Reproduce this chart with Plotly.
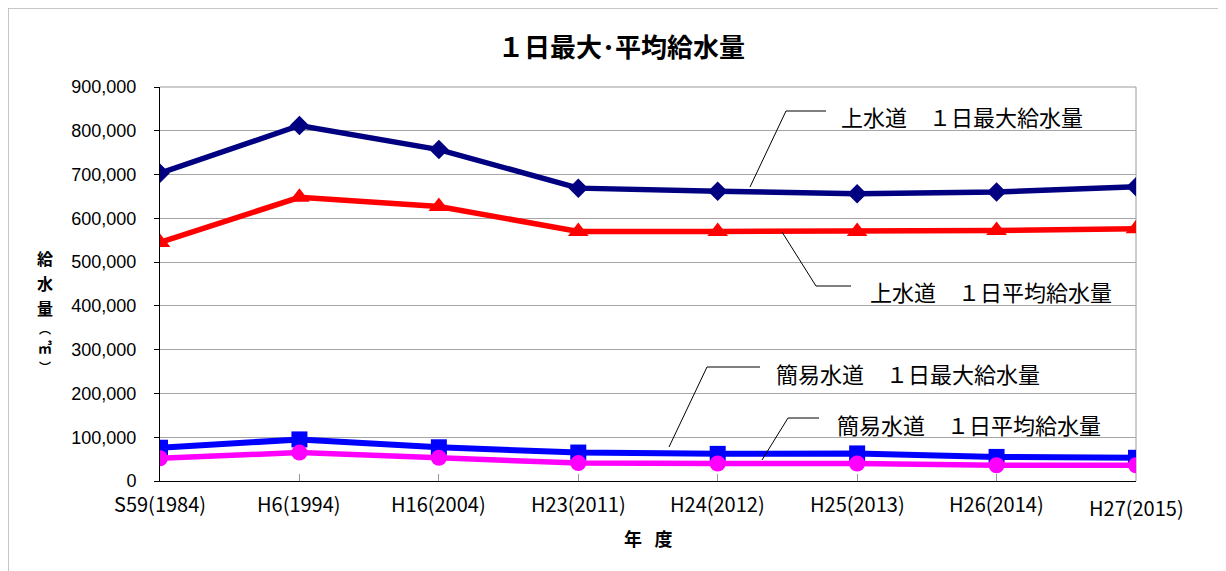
import plotly.graph_objects as go

# ---- data ----
categories = ["S59(1984)", "H6(1994)", "H16(2004)", "H23(2011)",
              "H24(2012)", "H25(2013)", "H26(2014)", "H27(2015)"]
josui_max = [703000, 812000, 757000, 669000, 662000, 656000, 660000, 672000]
josui_avg = [545000, 648000, 627000, 570000, 570000, 570000, 572000, 576000]
kanni_max = [76000, 95000, 77000, 65000, 62000, 63000, 55000, 53000]
kanni_avg = [52000, 65000, 53000, 41000, 40000, 40000, 36000, 36000]

series_names = ["上水道　１日最大給水量", "上水道　１日平均給水量",
                "簡易水道　１日最大給水量", "簡易水道　１日平均給水量"]
title_text = "１日最大･平均給水量"
y_title = "給水量︵㎥︶"
x_title = "年\u2002\u2009度"

# screenshot geometry (page body has an 8px margin)
OFF = 8
PLOT_X0, PLOT_X1 = 160, 1136
PLOT_Y0, PLOT_Y1 = 87, 481
W, H = 1226 - OFF, 571 - OFF
L, T = PLOT_X0 - OFF, PLOT_Y0 - OFF
PW, PH = PLOT_X1 - PLOT_X0, PLOT_Y1 - PLOT_Y0
R, B = W - L - PW, H - T - PH

def px(x):
    return (x - PLOT_X0) / PW

def py(y):
    return (PLOT_Y1 - y) / PH

JP = "Noto Sans CJK JP"

fig = go.Figure()
fig.add_trace(go.Scatter(x=categories, y=josui_max, mode="lines+markers", name=series_names[0],
                         line=dict(color="#000080", width=5.5),
                         marker=dict(symbol="diamond", size=15, color="#000080")))
fig.add_trace(go.Scatter(x=categories, y=josui_avg, mode="lines+markers", name=series_names[1],
                         line=dict(color="#FF0000", width=5.5),
                         marker=dict(symbol="triangle-up", size=18, color="#FF0000")))
fig.add_trace(go.Scatter(x=categories, y=kanni_max, mode="lines+markers", name=series_names[2],
                         line=dict(color="#0000FF", width=6),
                         marker=dict(symbol="square", size=16, color="#0000FF")))
fig.add_trace(go.Scatter(x=categories, y=kanni_avg, mode="lines+markers", name=series_names[3],
                         line=dict(color="#FF00FF", width=5.5),
                         marker=dict(symbol="circle", size=16, color="#FF00FF")))

annotations = []
# title
annotations.append(dict(text=f"<b>{title_text}</b>", xref="paper", yref="paper",
                        x=px(621), y=py(45), xanchor="center", yanchor="middle",
                        showarrow=False, font=dict(family=JP, size=26, color="black")))
# y-axis title stacked vertically, one character per row
ychar_y = [258, 283, 308, 328, 347, 366]
ychar_size = [16, 16, 16, 12, 14, 12]
for ch, yy, sz in zip(y_title, ychar_y, ychar_size):
    annotations.append(dict(text=f"<b>{ch}</b>", xref="paper", yref="paper",
                            x=px(45), y=py(yy), xanchor="center", yanchor="middle",
                            showarrow=False, borderpad=0,
                            font=dict(family=JP, size=sz, color="black")))
# x-axis title
annotations.append(dict(text=f"<b>{x_title}</b>", xref="paper", yref="paper",
                        x=px(648), y=py(538), xanchor="center", yanchor="middle",
                        showarrow=False, font=dict(family=JP, size=18, color="black")))
# x tick labels
for i, c in enumerate(categories):
    yy = 507 if i == len(categories) - 1 else 503
    annotations.append(dict(text=c, xref="x", yref="paper", x=c, y=py(yy),
                            xanchor="center", yanchor="middle", showarrow=False,
                            font=dict(family=JP, size=20, color="black")))

# series labels with leader lines
label_specs = [
    (series_names[0], 839, 116, [(750, 187), (786, 111), (826, 111)]),
    (series_names[1], 868, 291, [(782, 232), (816, 286), (851, 286)]),
    (series_names[2], 774, 373, [(669, 447), (707, 367), (760, 367)]),
    (series_names[3], 835, 424, [(762, 460), (788, 418), (819, 418)]),
]
shapes = []
for text, tx, ty, pts in label_specs:
    annotations.append(dict(text=text, xref="paper", yref="paper", x=px(tx), y=py(ty),
                            xanchor="left", yanchor="middle", showarrow=False,
                            font=dict(family=JP, size=22, color="black")))
    for (x0, y0), (x1, y1) in zip(pts[:-1], pts[1:]):
        shapes.append(dict(type="line", xref="paper", yref="paper",
                           x0=px(x0), y0=py(y0), x1=px(x1), y1=py(y1),
                           line=dict(color="black", width=1)))

# plot area top/right border (gray)
shapes.append(dict(type="line", xref="paper", yref="paper", x0=0, y0=1, x1=1, y1=1,
                   line=dict(color="#9a9a9a", width=1), layer="below"))
shapes.append(dict(type="line", xref="paper", yref="paper", x0=1, y0=0, x1=1, y1=1,
                   line=dict(color="#9a9a9a", width=1), layer="below"))
# outer chart border
shapes.append(dict(type="rect", xref="paper", yref="paper",
                   x0=px(8), y0=py(600), x1=px(1260), y1=py(8),
                   line=dict(color="#b4b4b4", width=1.5), fillcolor="rgba(0,0,0,0)"))

fig.update_layout(
    width=W, height=H,
    margin=dict(l=L, r=R, t=T, b=B),
    paper_bgcolor="white", plot_bgcolor="white",
    showlegend=False,
    annotations=annotations,
    shapes=shapes,
    xaxis=dict(type="category", categoryorder="array", categoryarray=categories,
               range=[0, len(categories) - 1], showgrid=False, zeroline=False,
               showline=True, linecolor="black", linewidth=1,
               ticks="inside", ticklen=7, tickcolor="#9a9a9a", tickwidth=1,
               showticklabels=False),
    yaxis=dict(range=[0, 900000], dtick=100000, tickformat=",",
               showgrid=True, gridcolor="#a6a6a6", gridwidth=1, zeroline=False,
               showline=True, linecolor="black", linewidth=1,
               ticks="outside", ticklen=5, tickcolor="black",
               ticklabelstandoff=14,
               tickfont=dict(family="Liberation Sans", size=18, color="black")),
)

fig.write_html("out.html")
